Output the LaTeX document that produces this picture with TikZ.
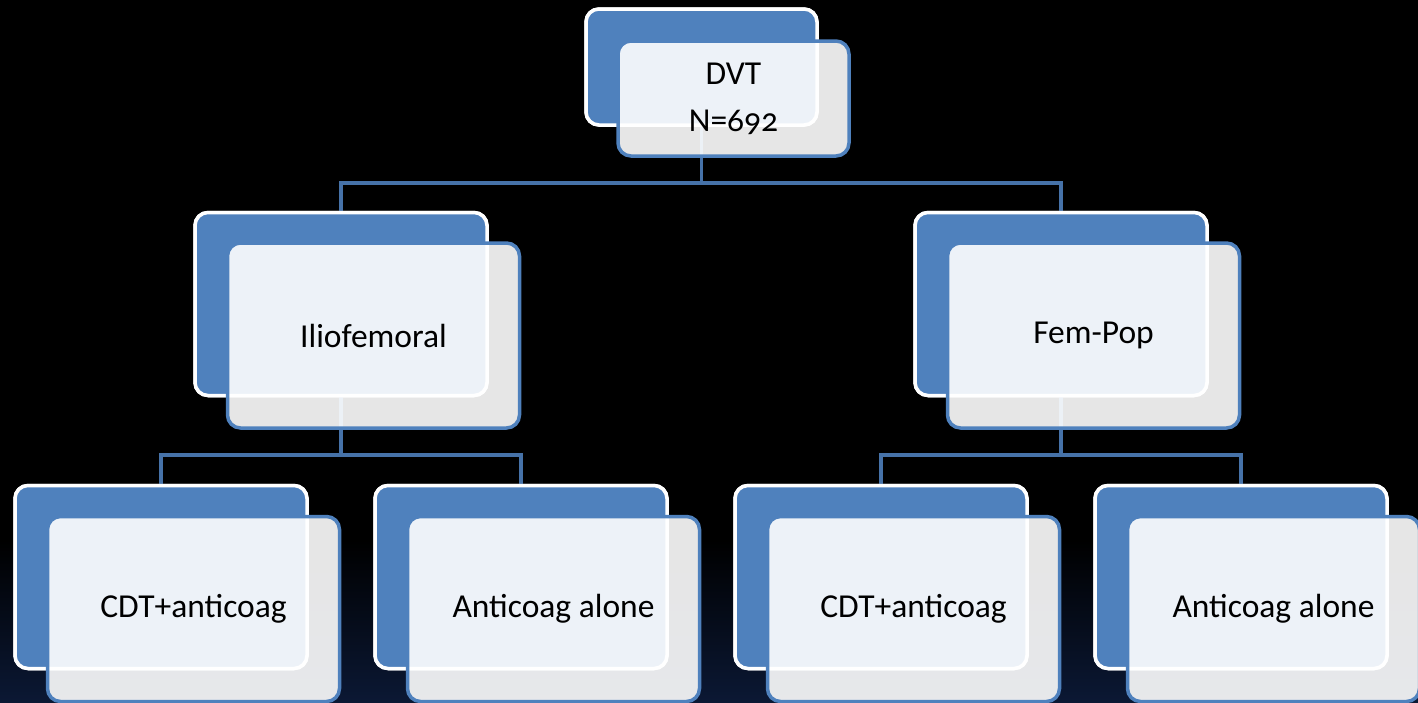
\documentclass[tikz,border=0pt]{standalone}
\usepackage{fontspec}
\setmainfont{Carlito}[Numbers=OldStyle]
\definecolor{accent}{HTML}{4F81BD}
\definecolor{conn}{HTML}{4672A8}
\definecolor{navy}{HTML}{0B1834}
\begin{document}
\begin{tikzpicture}[x=1pt,y=-1pt,
  backbox/.style={rounded corners=13pt, fill=accent, draw=white, line width=3.5pt,
    minimum width=#1, minimum height=183pt, inner sep=0pt},
  frontbox/.style={rounded corners=13pt, fill=white, fill opacity=0.9, text opacity=1,
    draw=accent, draw opacity=1, line width=3.5pt, minimum width=291pt, minimum height=184pt,
    inner sep=0pt, font=\fontsize{33.5}{47}\selectfont, align=center, text=black},
  connector/.style={draw=conn, line width=3.5pt}]
\useasboundingbox (0,0) rectangle (1418,702);
\clip (0,0) rectangle (1418,702);
\fill[black] (0,0) rectangle (1418,702);
\shade[top color=black, bottom color=navy] (0,540) rectangle (1418,702);

% back boxes
\node[backbox=231pt, minimum height=116pt] (dvtB) at (701.5,67) {};
\node[backbox=292pt] (ilioB) at (341,304) {};
\node[backbox=292pt] (femB) at (1061,304) {};
\node[backbox=292pt] (c1B) at (161,577) {};
\node[backbox=292pt] (c2B) at (521,577) {};
\node[backbox=292pt] (c3B) at (881,577) {};
\node[backbox=292pt] (c4B) at (1241,577) {};

% connectors
\coordinate (j1) at (701.5,183);
\coordinate (j2) at (341,455);
\coordinate (j3) at (1061,455);
\draw[connector] (dvtB.south) -- (j1);
\draw[connector] (ilioB.north) |- (j1) -| (femB.north);
\draw[connector] (ilioB.south) -- (j2);
\draw[connector] (c1B.north) |- (j2) -| (c2B.north);
\draw[connector] (femB.south) -- (j3);
\draw[connector] (c3B.north) |- (j3) -| (c4B.north);

% redraw back boxes over connector ends
\node[backbox=231pt, minimum height=116pt] at (dvtB) {};
\node[backbox=292pt] at (ilioB) {};
\node[backbox=292pt] at (femB) {};
\node[backbox=292pt] at (c1B) {};
\node[backbox=292pt] at (c2B) {};
\node[backbox=292pt] at (c3B) {};
\node[backbox=292pt] at (c4B) {};

% front boxes
\node[frontbox, minimum width=231pt, minimum height=115pt] (dvt) at (733.5,98.5) {DVT\\N=692};
\node[frontbox, minimum width=292pt, minimum height=185pt] (ilio) at (373.5,335.5) {Iliofemoral};
\node[frontbox, minimum width=292pt, minimum height=185pt] (fem) at (1093.5,335.5) {Fem-Pop};
\node[frontbox, minimum width=292pt, minimum height=185pt] (c1) at (193.5,609) {CDT+anticoag};
\node[frontbox, minimum width=292pt, minimum height=185pt] (c2) at (553.5,609) {Anticoag alone};
\node[frontbox, minimum width=292pt, minimum height=185pt] (c3) at (913.5,609) {CDT+anticoag};
\node[frontbox, minimum width=292pt, minimum height=185pt] (c4) at (1273.5,609) {Anticoag alone};
\end{tikzpicture}
\end{document}
